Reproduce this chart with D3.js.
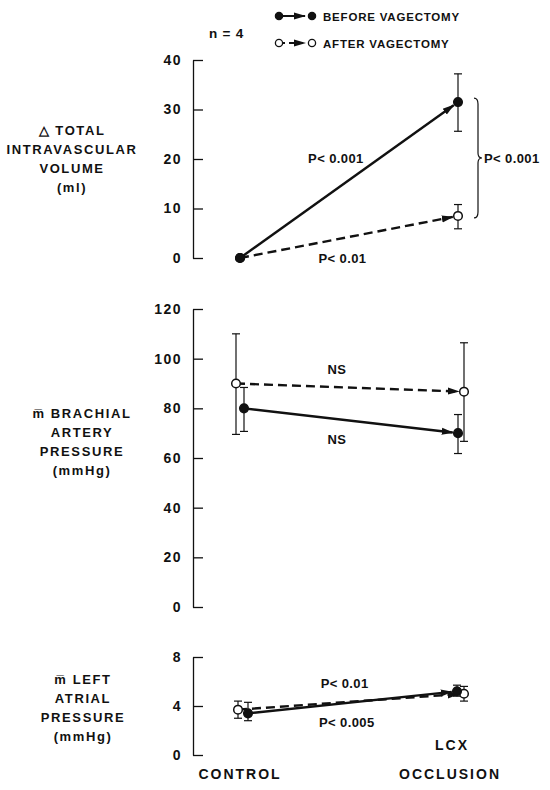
<!DOCTYPE html>
<html><head><meta charset="utf-8">
<script src="https://cdn.jsdelivr.net/npm/d3@7"></script>
<style>
body{margin:0;background:#fff;}
svg text{font-family:"Liberation Sans",Arial,sans-serif;font-weight:bold;fill:#111;}
</style></head>
<body><svg id="c" width="550" height="790"></svg>
<script>
// ---- data ----
const categories = ["CONTROL", "LCX OCCLUSION"];
const volTicks = [0, 10, 20, 30, 40];
const volBefore = [0, 31.5];
const volBeforeLo = [null, 25.6];
const volBeforeHi = [null, 37.2];
const volAfter = [0, 8.5];
const volAfterLo = [null, 5.9];
const volAfterHi = [null, 10.8];

const bapTicks = [0, 20, 40, 60, 80, 100, 120];
const bapBefore = [80, 70];
const bapBeforeLo = [70.7, 61.8];
const bapBeforeHi = [88.4, 77.5];
const bapAfter = [90, 86.7];
const bapAfterLo = [69.5, 66.7];
const bapAfterHi = [110, 106.4];

const lapTicks = [0, 4, 8];
const lapBefore = [3.4, 5.2];
const lapBeforeLo = [2.8, 4.8];
const lapBeforeHi = [4.3, 5.7];
const lapAfter = [3.7, 5.0];
const lapAfterLo = [3.0, 4.4];
const lapAfterHi = [4.4, 5.6];

const seriesNames = ["BEFORE VAGECTOMY", "AFTER VAGECTOMY"];

// ---- layout ----
const svg = d3.select("#c");
const axisX = 193;
const x = d3.scalePoint().domain(categories).range([240, 458]);

const panels = [
  { label: ["\u25B3 TOTAL", "INTRAVASCULAR", "VOLUME", "(ml)"], labelX: 72, labelY: 130,
    domain: [0, 40], range: [258, 60], ticks: volTicks,
    before: [volBefore, volBeforeLo, volBeforeHi], after: [volAfter, volAfterLo, volAfterHi],
    offB: [0, 0], offA: [0, 0],
    notes: [{t: "P< 0.001", f: 0.44, v: 20.2}, {t: "P< 0.01", f: 0.47, v: -0.1}] },
  { label: ["m\u0305 BRACHIAL", "ARTERY", "PRESSURE", "(mmHg)"], labelX: 82, labelY: 413,
    domain: [0, 120], range: [607, 309], ticks: bapTicks,
    before: [bapBefore, bapBeforeLo, bapBeforeHi], after: [bapAfter, bapAfterLo, bapAfterHi],
    offB: [4, 0], offA: [-4, 6],
    notes: [{t: "NS", f: 0.445, v: 95.8}, {t: "NS", f: 0.445, v: 67.7}] },
  { label: ["m\u0305 LEFT", "ATRIAL", "PRESSURE", "(mmHg)"], labelX: 83, labelY: 679,
    domain: [0, 8], range: [755, 657], ticks: lapTicks,
    before: [lapBefore, lapBeforeLo, lapBeforeHi], after: [lapAfter, lapAfterLo, lapAfterHi],
    offB: [8, -1], offA: [-2, 6],
    notes: [{t: "P< 0.01", f: 0.48, v: 5.9}, {t: "P< 0.005", f: 0.49, v: 2.7}] }
];

// arrowhead marker
svg.append("defs").append("marker")
  .attr("id", "ah").attr("markerUnits", "userSpaceOnUse")
  .attr("viewBox", "0 -5 12 10").attr("refX", 11).attr("refY", 0)
  .attr("markerWidth", 12).attr("markerHeight", 10).attr("orient", "auto")
  .append("path").attr("d", "M0,-3.6L12,0L0,3.6Z").attr("fill", "#111");

const R = 4.3;

function arrowLine(g, x1, y1, x2, y2, dashed) {
  const dx = x2 - x1, dy = y2 - y1, L = Math.hypot(dx, dy);
  const s = (L - R - 1) / L;
  g.append("line").attr("x1", x1).attr("y1", y1)
    .attr("x2", x1 + dx * s).attr("y2", y1 + dy * s)
    .attr("stroke", "#111").attr("stroke-width", 2.4)
    .attr("stroke-dasharray", dashed ? "9,5" : null)
    .attr("marker-end", "url(#ah)");
}

panels.forEach(p => {
  const y = d3.scaleLinear().domain(p.domain).range(p.range);
  const g = svg.append("g");
  // axis
  const ax = g.append("g").attr("transform", `translate(${axisX},0)`)
    .call(d3.axisLeft(y).tickValues(p.ticks).tickSize(-10).tickSizeOuter(0).tickPadding(11));
  ax.select(".domain").attr("stroke", "#111").attr("stroke-width", 1.3);
  ax.selectAll(".tick line").attr("stroke", "#111").attr("stroke-width", 1.3);
  ax.selectAll(".tick text").attr("font-size", 14).attr("letter-spacing", 1.5)
    .attr("font-family", "Liberation Sans, Arial, sans-serif").attr("font-weight", "bold").attr("fill", "#111");

  // label
  const lt = g.append("text").attr("text-anchor", "middle").attr("font-size", 13).attr("letter-spacing", 1.6);
  p.label.forEach((s, i) => lt.append("tspan").attr("x", p.labelX).attr("y", p.labelY + 5 + i * 19).text(s));

  const series = [
    { d: p.after, off: p.offA, dashed: true, filled: false },
    { d: p.before, off: p.offB, dashed: false, filled: true }
  ];
  series.forEach(s => {
    const [vals, lo, hi] = s.d;
    const px = categories.map((c, i) => x(c) + s.off[i]);
    // error bars
    vals.forEach((v, i) => {
      if (lo[i] == null) return;
      g.append("line").attr("x1", px[i]).attr("x2", px[i]).attr("y1", y(lo[i])).attr("y2", y(hi[i]))
        .attr("stroke", "#111").attr("stroke-width", 1.2);
      [lo[i], hi[i]].forEach(e => g.append("line").attr("x1", px[i] - 4).attr("x2", px[i] + 4)
        .attr("y1", y(e)).attr("y2", y(e)).attr("stroke", "#111").attr("stroke-width", 1.2));
    });
    arrowLine(g, px[0], y(vals[0]), px[1], y(vals[1]), s.dashed);
  });
  series.forEach(s => {
    const [vals] = s.d;
    vals.forEach((v, i) => {
      g.append("circle").attr("cx", x(categories[i]) + s.off[i]).attr("cy", y(v)).attr("r", R)
        .attr("fill", s.filled ? "#111" : "#fff").attr("stroke", "#111").attr("stroke-width", 1.5);
    });
  });
  // annotations
  p.notes.forEach(n => {
    const x0 = x(categories[0]), x1 = x(categories[1]);
    g.append("text").attr("x", x0 + (x1 - x0) * n.f).attr("y", y(n.v) + 5)
      .attr("text-anchor", "middle").attr("font-size", 13).attr("letter-spacing", 0.4).text(n.t);
  });
  p.y = y;
});

// brace on top panel comparing LCX values
{
  const y = panels[0].y;
  const bx = x(categories[1]) + 16;
  const t = y(volBefore[1]) - 4, b = y(volAfter[1]) + 2, m = (t + b) / 2;
  svg.append("path").attr("fill", "none").attr("stroke", "#111").attr("stroke-width", 1.2)
    .attr("d", `M${bx},${t} Q${bx+4},${t} ${bx+4},${t+6} L${bx+4},${m-5} Q${bx+4},${m} ${bx+8},${m} Q${bx+4},${m} ${bx+4},${m+5} L${bx+4},${b-6} Q${bx+4},${b} ${bx},${b}`);
  svg.append("text").attr("x", bx + 10).attr("y", m + 5).attr("font-size", 13).attr("letter-spacing", 0.4).text("P< 0.001");
}

// x category labels
svg.append("text").attr("x", x(categories[0])).attr("y", 779).attr("text-anchor", "middle")
  .attr("font-size", 14).attr("letter-spacing", 2).text(categories[0]);
const lcx = categories[1].split(" ");
svg.append("text").attr("x", x(categories[1]) - 6).attr("y", 750).attr("text-anchor", "middle")
  .attr("font-size", 14).attr("letter-spacing", 2).text(lcx[0]);
svg.append("text").attr("x", x(categories[1]) - 8).attr("y", 779).attr("text-anchor", "middle")
  .attr("font-size", 14).attr("letter-spacing", 2).text(lcx[1]);

// legend
const lg = svg.append("g");
seriesNames.forEach((name, i) => {
  const ly = 16 + i * 27;
  const filled = i === 0;
  lg.append("line").attr("x1", 280).attr("x2", 305).attr("y1", ly).attr("y2", ly)
    .attr("stroke", "#111").attr("stroke-width", 2)
    .attr("stroke-dasharray", filled ? null : "5,4").attr("marker-end", "url(#ah)");
  [279, 312].forEach(cx => lg.append("circle").attr("cx", cx).attr("cy", ly).attr("r", 3.6)
    .attr("fill", filled ? "#111" : "#fff").attr("stroke", "#111").attr("stroke-width", 1.3));
  lg.append("text").attr("x", 323).attr("y", ly + 4.5).attr("font-size", 11.5).attr("letter-spacing", 0.8).text(name);
});
svg.append("text").attr("x", 209).attr("y", 38).attr("font-size", 13.5).attr("letter-spacing", 0.8).text("n = 4");
</script></body></html>
